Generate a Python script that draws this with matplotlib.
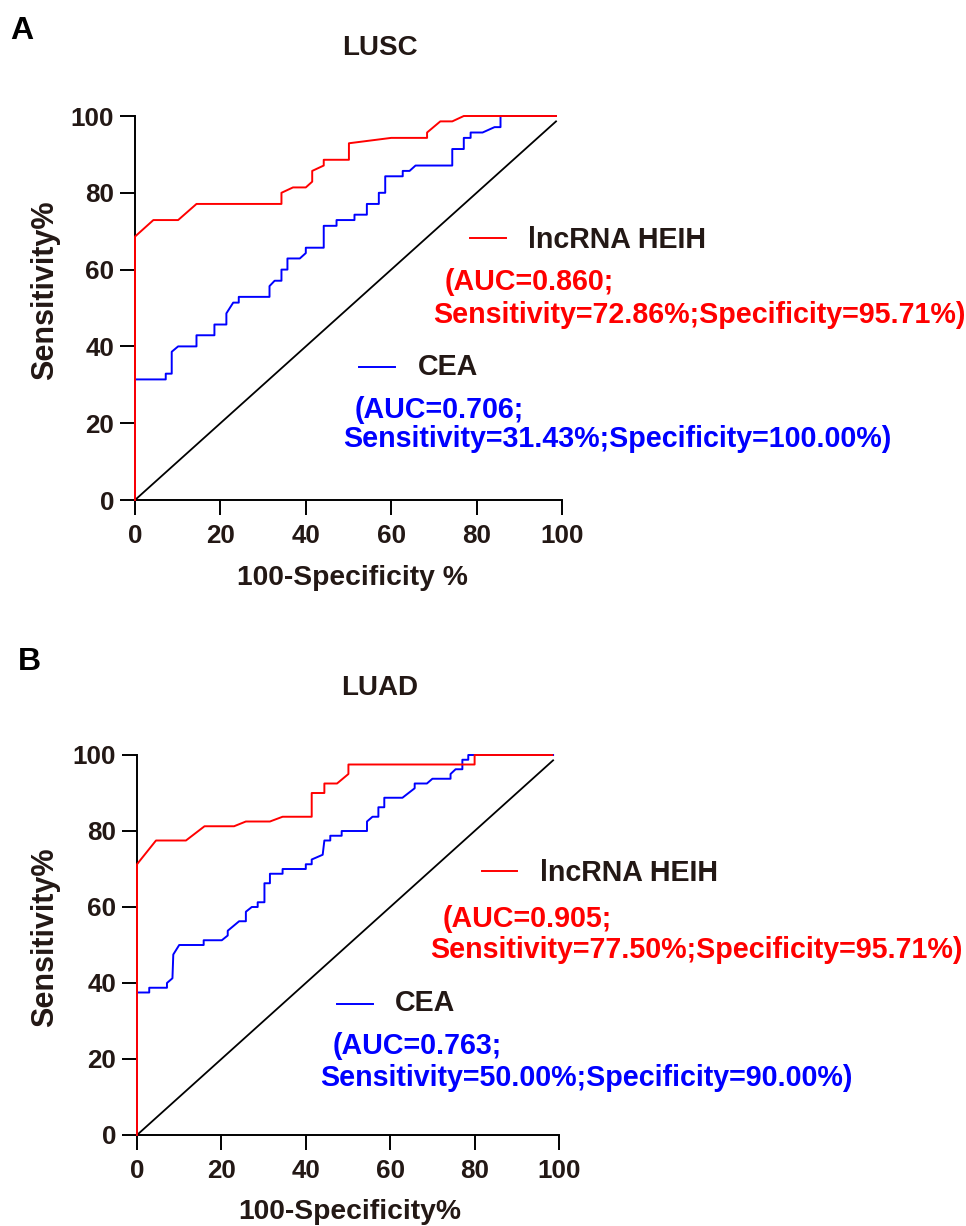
import matplotlib
matplotlib.use("Agg")
import matplotlib.pyplot as plt
from matplotlib.lines import Line2D

plt.rcParams['font.family'] = ['Liberation Sans', 'DejaVu Sans']
plt.rcParams['font.weight'] = 'bold'

# ---------------- data ----------------
# Panel A: LUSC
lusc_heih_x = [0, 0, 4.3, 10.1, 14.4, 34.3, 34.3, 37.0, 40.0, 41.5, 41.5, 44.2, 44.2, 50.1, 50.1,
               60.0, 68.4, 68.4, 71.5, 74.3, 77.0, 98.6]
lusc_heih_y = [0, 68.6, 72.9, 72.9, 77.1, 77.1, 80.0, 81.4, 81.4, 82.9, 85.7, 87.1, 88.6, 88.6, 92.9,
               94.3, 94.3, 95.7, 98.6, 98.6, 100, 100]
lusc_cea_x = [0, 0, 7.2, 7.2, 8.6, 8.6, 10.1, 14.4, 14.4, 18.6, 18.6, 21.4, 21.4, 23.0, 24.3, 24.3,
              31.5, 31.5, 32.7, 34.3, 34.3, 35.7, 35.7, 38.6, 40.0, 40.0, 44.2, 44.2, 47.2, 47.2,
              51.4, 51.4, 54.3, 54.3, 57.1, 57.1, 58.6, 58.6, 62.7, 62.7, 64.3, 65.7, 74.3, 74.3,
              77.0, 77.0, 78.6, 78.6, 81.4, 84.2, 85.6, 85.6, 98.6]
lusc_cea_y = [0, 31.4, 31.4, 32.9, 32.9, 38.6, 40.0, 40.0, 42.9, 42.9, 45.7, 45.7, 48.6, 51.4, 51.4, 52.9,
              52.9, 55.7, 57.1, 57.1, 60.0, 60.0, 62.9, 62.9, 64.3, 65.7, 65.7, 71.4, 71.4, 72.9,
              72.9, 74.3, 74.3, 77.1, 77.1, 80.0, 80.0, 84.3, 84.3, 85.7, 85.7, 87.1, 87.1, 91.4,
              91.4, 94.3, 94.3, 95.7, 95.7, 97.1, 97.1, 100, 100]

# Panel B: LUAD
luad_heih_x = [0, 0, 4.5, 11.6, 16.0, 23.0, 25.8, 31.5, 34.5, 41.4, 41.4, 44.4, 44.4, 47.4, 50.1,
               50.1, 80.0, 80.0, 98.4]
luad_heih_y = [0, 71.25, 77.5, 77.5, 81.25, 81.25, 82.5, 82.5, 83.75, 83.75, 90, 90, 92.5, 92.5, 95,
               97.5, 97.5, 100, 100]
luad_cea_x = [0, 0, 2.9, 2.9, 7.1, 7.1, 8.4, 8.6, 10.0, 15.8, 15.8, 20.1, 21.5, 21.5, 24.2, 25.8,
              25.8, 27.2, 28.6, 28.6, 30.2, 30.2, 31.5, 31.5, 34.5, 34.5, 40.0, 40.0, 41.4, 41.4,
              44.0, 44.4, 45.8, 45.8, 48.5, 48.5, 54.5, 54.5, 55.8, 57.2, 57.2, 58.6, 58.6, 62.9,
              65.8, 65.8, 68.7, 70.0, 74.3, 74.3, 75.5, 77.1, 77.1, 78.5, 78.5, 98.6]
luad_cea_y = [0, 37.5, 37.5, 38.75, 38.75, 40.0, 41.25, 47.5, 50.0, 50.0, 51.25, 51.25, 52.5, 53.75,
              56.25, 56.25, 58.75, 60.0, 60.0, 61.25, 61.25, 66.25, 66.25, 68.75, 68.75, 70.0,
              70.0, 71.25, 71.25, 72.5, 73.75, 77.5, 77.5, 78.75, 78.75, 80.0, 80.0, 82.5, 83.75,
              83.75, 86.25, 86.25, 88.75, 88.75, 91.25, 92.5, 92.5, 93.75, 93.75, 95.0, 96.25,
              96.25, 98.75, 98.75, 100, 100]

ref_line = [0, 98.6]
ticks = [0, 20, 40, 60, 80, 100]

panels = [
    dict(letter="A", title="LUSC", xlabel="100-Specificity %",
         heih=(lusc_heih_x, lusc_heih_y), cea=(lusc_cea_x, lusc_cea_y),
         heih_auc="(AUC=0.860;", heih_ss="Sensitivity=72.86%;Specificity=95.71%)",
         cea_auc="(AUC=0.706;", cea_ss="Sensitivity=31.43%;Specificity=100.00%)"),
    dict(letter="B", title="LUAD", xlabel="100-Specificity%",
         heih=(luad_heih_x, luad_heih_y), cea=(luad_cea_x, luad_cea_y),
         heih_auc="(AUC=0.905;", heih_ss="Sensitivity=77.50%;Specificity=95.71%)",
         cea_auc="(AUC=0.763;", cea_ss="Sensitivity=50.00%;Specificity=90.00%)"),
]

# ---------------- layout (pixels) ----------------
W, H = 966, 1226
def fx(px):
    return px / W
def fy(py):
    return 1 - py / H

TXT = '#231815'
RED = '#FF0000'
BLUE = '#0000FF'
LEG_FS = 20.6

fig = plt.figure(figsize=(W / 100, H / 100), dpi=100)

layout = [
    dict(ax=(135, 116, 562, 500), letter=(22, 31), title=(380, 48), xlab=(352, 578), ylab=(45, 290),
         rline=(470, 506, 238), rname=(528, 240), rauc=(445, 282), rss=(433, 315),
         bline=(359, 395, 367), bname=(418, 367), bauc=(355, 410), bss=(343, 439)),
    dict(ax=(137, 755, 559, 1135), letter=(29, 662), title=(380, 688), xlab=(350, 1212), ylab=(45, 937),
         rline=(482, 517, 871), rname=(540, 873), rauc=(443, 919), rss=(430, 950),
         bline=(337, 373, 1004), bname=(395, 1003), bauc=(333, 1046), bss=(320, 1078)),
]

for p, L in zip(panels, layout):
    x0, y0, x1, y1 = L['ax']
    ax = fig.add_axes([fx(x0), fy(y1), (x1 - x0) / W, (y1 - y0) / H])
    ax.plot(ref_line, ref_line, color='black', lw=1.3, clip_on=False, zorder=2)
    ax.plot(p['cea'][0], p['cea'][1], color=BLUE, lw=1.4, clip_on=False, zorder=3)
    ax.plot(p['heih'][0], p['heih'][1], color=RED, lw=1.4, clip_on=False, zorder=4)
    ax.set_xlim(0, 100)
    ax.set_ylim(0, 100)
    ax.set_xticks(ticks)
    ax.set_yticks(ticks)
    for s in ('top', 'right'):
        ax.spines[s].set_visible(False)
    for s in ('left', 'bottom'):
        ax.spines[s].set_linewidth(1.4)
        ax.spines[s].set_color('black')
    ax.tick_params(direction='out', length=11, width=1.4, labelsize=18.7, colors='black',
                   labelcolor=TXT)
    ax.tick_params(axis='y', pad=4)
    ax.tick_params(axis='x', pad=6)
    for lab in ax.get_xticklabels() + ax.get_yticklabels():
        lab.set_fontweight('bold')
    ax.patch.set_alpha(0)

    fig.text(fx(L['letter'][0]), fy(L['letter'][1]), p['letter'], fontsize=23, fontweight='bold',
             color='black', ha='center', va='center')
    fig.text(fx(L['title'][0]), fy(L['title'][1]), p['title'], fontsize=20, fontweight='bold',
             color=TXT, ha='center', va='center')
    fig.text(fx(L['xlab'][0]), fy(L['xlab'][1]), p['xlabel'], fontsize=20.3, fontweight='bold',
             color=TXT, ha='center', va='center')
    fig.text(fx(L['ylab'][0]), fy(L['ylab'][1]), "Sensitivity%", fontsize=22, fontweight='bold',
             color=TXT, ha='center', va='center', rotation=90)

    a, b, yy = L['rline']
    fig.add_artist(Line2D([fx(a), fx(b)], [fy(yy), fy(yy)], color=RED, lw=1.4))
    fig.text(fx(L['rname'][0]), fy(L['rname'][1]), "lncRNA HEIH", fontsize=LEG_FS, fontweight='bold',
             color=TXT, ha='left', va='center')
    fig.text(fx(L['rauc'][0]), fy(L['rauc'][1]), p['heih_auc'], fontsize=LEG_FS, fontweight='bold',
             color=RED, ha='left', va='center')
    fig.text(fx(L['rss'][0]), fy(L['rss'][1]), p['heih_ss'], fontsize=LEG_FS, fontweight='bold',
             color=RED, ha='left', va='center')

    a, b, yy = L['bline']
    fig.add_artist(Line2D([fx(a), fx(b)], [fy(yy), fy(yy)], color=BLUE, lw=1.4))
    fig.text(fx(L['bname'][0]), fy(L['bname'][1]), "CEA", fontsize=LEG_FS, fontweight='bold',
             color=TXT, ha='left', va='center')
    fig.text(fx(L['bauc'][0]), fy(L['bauc'][1]), p['cea_auc'], fontsize=LEG_FS, fontweight='bold',
             color=BLUE, ha='left', va='center')
    fig.text(fx(L['bss'][0]), fy(L['bss'][1]), p['cea_ss'], fontsize=LEG_FS, fontweight='bold',
             color=BLUE, ha='left', va='center')

fig.savefig("out.png", dpi=100, facecolor='white')
